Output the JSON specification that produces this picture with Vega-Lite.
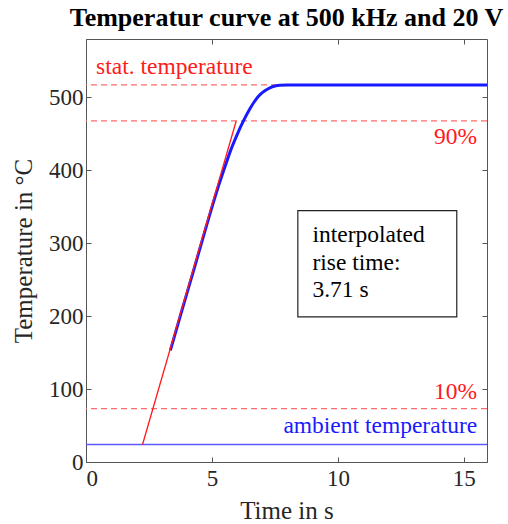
{
  "$schema": "https://vega.github.io/schema/vega-lite/v6.json",
  "width": 401,
  "height": 423,
  "autosize": {"type": "none"},
  "padding": {"left": 86, "top": 39, "right": 21, "bottom": 62},
  "background": "white",
  "config": {
    "view": {"stroke": "#555555", "strokeWidth": 1},
    "axis": {
      "grid": false,
      "domain": false,
      "tickColor": "#555555",
      "tickSize": -5,
      "labelColor": "#262626",
      "titleColor": "#262626",
      "labelFont": "Liberation Serif",
      "titleFont": "Liberation Serif",
      "labelFontSize": 23,
      "titleFontSize": 25,
      "titleFontWeight": "normal"
    }
  },
  "title": {
    "text": "Temperatur curve at 500 kHz and 20 V",
    "font": "Liberation Serif",
    "fontSize": 26,
    "fontWeight": "bold",
    "color": "#000000",
    "anchor": "middle",
    "offset": 8
  },
  "datasets": {
    "curve": [
      {"t": 3.35, "T": 153},
      {"t": 3.8, "T": 207},
      {"t": 4.3, "T": 266},
      {"t": 4.8, "T": 326},
      {"t": 5.2, "T": 372},
      {"t": 5.5, "T": 403},
      {"t": 5.75, "T": 428},
      {"t": 6.0, "T": 449},
      {"t": 6.24, "T": 467},
      {"t": 6.52, "T": 485},
      {"t": 6.72, "T": 496},
      {"t": 6.92, "T": 504},
      {"t": 7.1, "T": 509},
      {"t": 7.3, "T": 513},
      {"t": 7.5, "T": 515.5},
      {"t": 7.7, "T": 516.7},
      {"t": 8.0, "T": 517},
      {"t": 10, "T": 517},
      {"t": 15.92, "T": 517}
    ],
    "tangent": [
      {"t": 2.245, "T": 24},
      {"t": 5.96, "T": 467.2}
    ],
    "refs": [
      {"name": "stat", "T": 517},
      {"name": "90%", "T": 467.7},
      {"name": "10%", "T": 73.3}
    ],
    "ambient": [{"name": "ambient", "T": 24}],
    "box": [{"t1": 8.41, "t2": 14.72, "T1": 199, "T2": 344.6}],
    "statLabel": [{"t": 0.4, "T": 541, "label": "stat. temperature"}],
    "pctLabels": [
      {"t": 15.53, "T": 445, "label": "90%"},
      {"t": 15.53, "T": 95.5, "label": "10%"}
    ],
    "ambLabel": [{"t": 15.53, "T": 49, "label": "ambient temperature"}],
    "boxText": [
      {"t": 8.99, "T": 311.8, "label": "interpolated"},
      {"t": 8.99, "T": 273.4, "label": "rise time:"},
      {"t": 8.99, "T": 236.4, "label": "3.71 s"}
    ]
  },
  "resolve": {"axis": {"x": "independent", "y": "independent"}},
  "layer": [
    {
      "data": {"name": "ambient"},
      "mark": {"type": "rule", "color": "#5a5aff", "strokeWidth": 1.5},
      "encoding": {
        "y": {
          "field": "T", "type": "quantitative",
          "scale": {"domain": [0, 580], "nice": false, "zero": false},
          "axis": {"title": "Temperature in °C", "values": [0, 100, 200, 300, 400, 500], "labelPadding": 8, "titlePadding": 12, "orient": "left"}
        }
      }
    },
    {
      "data": {"name": "refs"},
      "mark": {"type": "rule", "color": "#ff6a6a", "strokeWidth": 1.2, "strokeDash": [6, 4]},
      "encoding": {
        "y": {"field": "T", "type": "quantitative", "axis": {"orient": "right", "labels": false, "title": null, "values": [0, 100, 200, 300, 400, 500]}}
      }
    },
    {
      "data": {"name": "curve"},
      "mark": {"type": "line", "color": "#1a1aff", "strokeWidth": 3, "interpolate": "monotone"},
      "encoding": {
        "x": {
          "field": "t", "type": "quantitative",
          "scale": {"domain": [0, 15.92], "nice": false, "zero": false},
          "axis": {"title": "Time in s", "values": [0, 5, 10, 15], "labelPadding": 10, "titlePadding": 8, "orient": "bottom"}
        },
        "y": {"field": "T", "type": "quantitative", "axis": null}
      }
    },
    {
      "data": {"name": "tangent"},
      "mark": {"type": "line", "color": "#ff1a1a", "strokeWidth": 1.3},
      "encoding": {
        "x": {"field": "t", "type": "quantitative", "axis": {"orient": "top", "labels": false, "title": null, "values": [0, 5, 10, 15]}},
        "y": {"field": "T", "type": "quantitative", "axis": null}
      }
    },
    {
      "data": {"name": "box"},
      "mark": {"type": "rect", "fill": "white", "stroke": "#222222", "strokeWidth": 1.2},
      "encoding": {
        "x": {"field": "t1", "type": "quantitative", "axis": null},
        "x2": {"field": "t2"},
        "y": {"field": "T1", "type": "quantitative", "axis": null},
        "y2": {"field": "T2"}
      }
    },
    {
      "data": {"name": "boxText"},
      "mark": {"type": "text", "align": "left", "baseline": "middle", "fontSize": 23.5, "font": "Liberation Serif", "color": "#000000"},
      "encoding": {
        "x": {"field": "t", "type": "quantitative", "axis": null},
        "y": {"field": "T", "type": "quantitative", "axis": null},
        "text": {"field": "label"}
      }
    },
    {
      "data": {"name": "statLabel"},
      "mark": {"type": "text", "align": "left", "baseline": "middle", "fontSize": 23.5, "font": "Liberation Serif", "color": "#ff1a1a"},
      "encoding": {
        "x": {"field": "t", "type": "quantitative", "axis": null},
        "y": {"field": "T", "type": "quantitative", "axis": null},
        "text": {"field": "label"}
      }
    },
    {
      "data": {"name": "pctLabels"},
      "mark": {"type": "text", "align": "right", "baseline": "middle", "fontSize": 23.5, "font": "Liberation Serif", "color": "#ff1a1a"},
      "encoding": {
        "x": {"field": "t", "type": "quantitative", "axis": null},
        "y": {"field": "T", "type": "quantitative", "axis": null},
        "text": {"field": "label"}
      }
    },
    {
      "data": {"name": "ambLabel"},
      "mark": {"type": "text", "align": "right", "baseline": "middle", "fontSize": 23.5, "font": "Liberation Serif", "color": "#1a1aff"},
      "encoding": {
        "x": {"field": "t", "type": "quantitative", "axis": null},
        "y": {"field": "T", "type": "quantitative", "axis": null},
        "text": {"field": "label"}
      }
    }
  ]
}
